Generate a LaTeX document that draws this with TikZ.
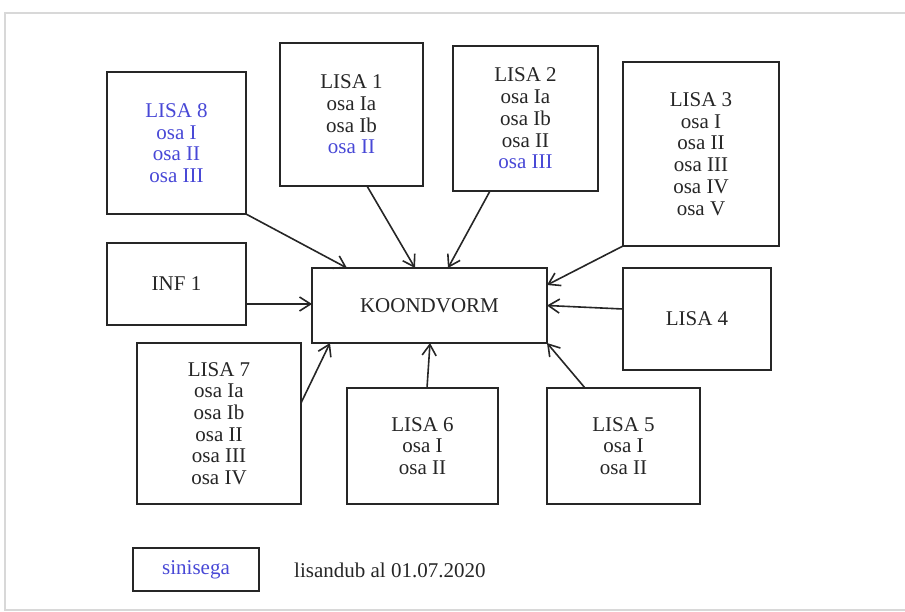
\documentclass[tikz,border=0pt]{standalone}
\usepackage{fontspec}
\setmainfont{Liberation Serif}
\usetikzlibrary{arrows.meta,calc}
\definecolor{linkblue}{RGB}{72,72,214}
\definecolor{framegray}{RGB}{216,216,216}
\definecolor{ink}{RGB}{38,38,38}
\begin{document}
\begin{tikzpicture}[x=1pt,y=-1pt,
  box/.style={draw=ink, line width=1.8pt, rectangle, inner sep=0pt, outer sep=0pt,
    align=center, font=\fontsize{21}{21.7}\selectfont, text=ink},
  feed/.style={draw=ink, line width=1.6pt,
    -{Straight Barb[length=11pt,width=14pt,line width=1.6pt]}},
  plain/.style={font=\fontsize{21}{21.7}\selectfont, text=ink, inner sep=0pt}
]
\useasboundingbox (0,0) rectangle (905,612);

% outer frame
\draw[framegray, line width=1.5pt] (905,13) -- (5,13) -- (5,610) -- (905,610);

% source forms
\node[box, text=linkblue, minimum width=139pt, minimum height=142pt] (l8) at (176.5,143)
  {LISA 8\\osa I\\osa II\\osa III};
\node[box, minimum width=143pt, minimum height=143pt] (l1) at (351.5,114.5)
  {LISA 1\\osa Ia\\osa Ib\\\textcolor{linkblue}{osa II}};
\node[box, minimum width=145pt, minimum height=145pt] (l2) at (525.5,118.5)
  {LISA 2\\osa Ia\\osa Ib\\osa II\\\textcolor{linkblue}{osa III}};
\node[box, minimum width=156pt, minimum height=184pt] (l3) at (701,154)
  {LISA 3\\osa I\\osa II\\osa III\\osa IV\\osa V};
\node[box, minimum width=148pt, minimum height=102pt] (l4) at (697,319) {LISA 4};
\node[box, minimum width=139pt, minimum height=82pt] (inf) at (176.5,284) {INF 1};
\node[box, minimum width=164pt, minimum height=161pt] (l7) at (219,423.5)
  {LISA 7\\osa Ia\\osa Ib\\osa II\\osa III\\osa IV};
\node[box, minimum width=151pt, minimum height=116pt] (l6) at (422.5,446)
  {LISA 6\\osa I\\osa II};
\node[box, minimum width=153pt, minimum height=116pt] (l5) at (623.5,446)
  {LISA 5\\osa I\\osa II};

% summary form
\node[box, minimum width=235pt, minimum height=75pt] (K) at (429.5,305.5) {KOONDVORM};

% connectors into the summary form
\draw[feed] (l8.south east) -- ($(K.north west)+(35,0)$);
\draw[feed] ($(l1.south)+(15.5,0)$) -- ($(K.north west)+(103,0)$);
\draw[feed] ($(l2.south west)+(37,0)$) -- ($(K.north west)+(136,0)$);
\draw[feed] (l3.south west) -- ($(K.north east)+(0,17)$);
\draw[feed] ($(l4.west)+(0,-10)$) -- (K.east);
\draw[feed] ($(l5.north west)+(38,0)$) -- (K.south east);
\draw[feed] ($(l6.north)+(4.5,0)$) -- ($(K.south west)+(118,0)$);
\draw[feed] ($(l7.east)+(0,-20.5)$) -- ($(K.south west)+(18,0)$);
\draw[feed] ($(inf.east)+(0,20)$) -- ($(K.west)+(0,-1.5)$);

% legend
\node[box, text=linkblue, minimum width=126pt, minimum height=43pt] (key) at (196,569.5) {sinisega};
\node[plain, anchor=west] (keytext) at (294,570) {lisandub al 01.07.2020};
\end{tikzpicture}
\end{document}
